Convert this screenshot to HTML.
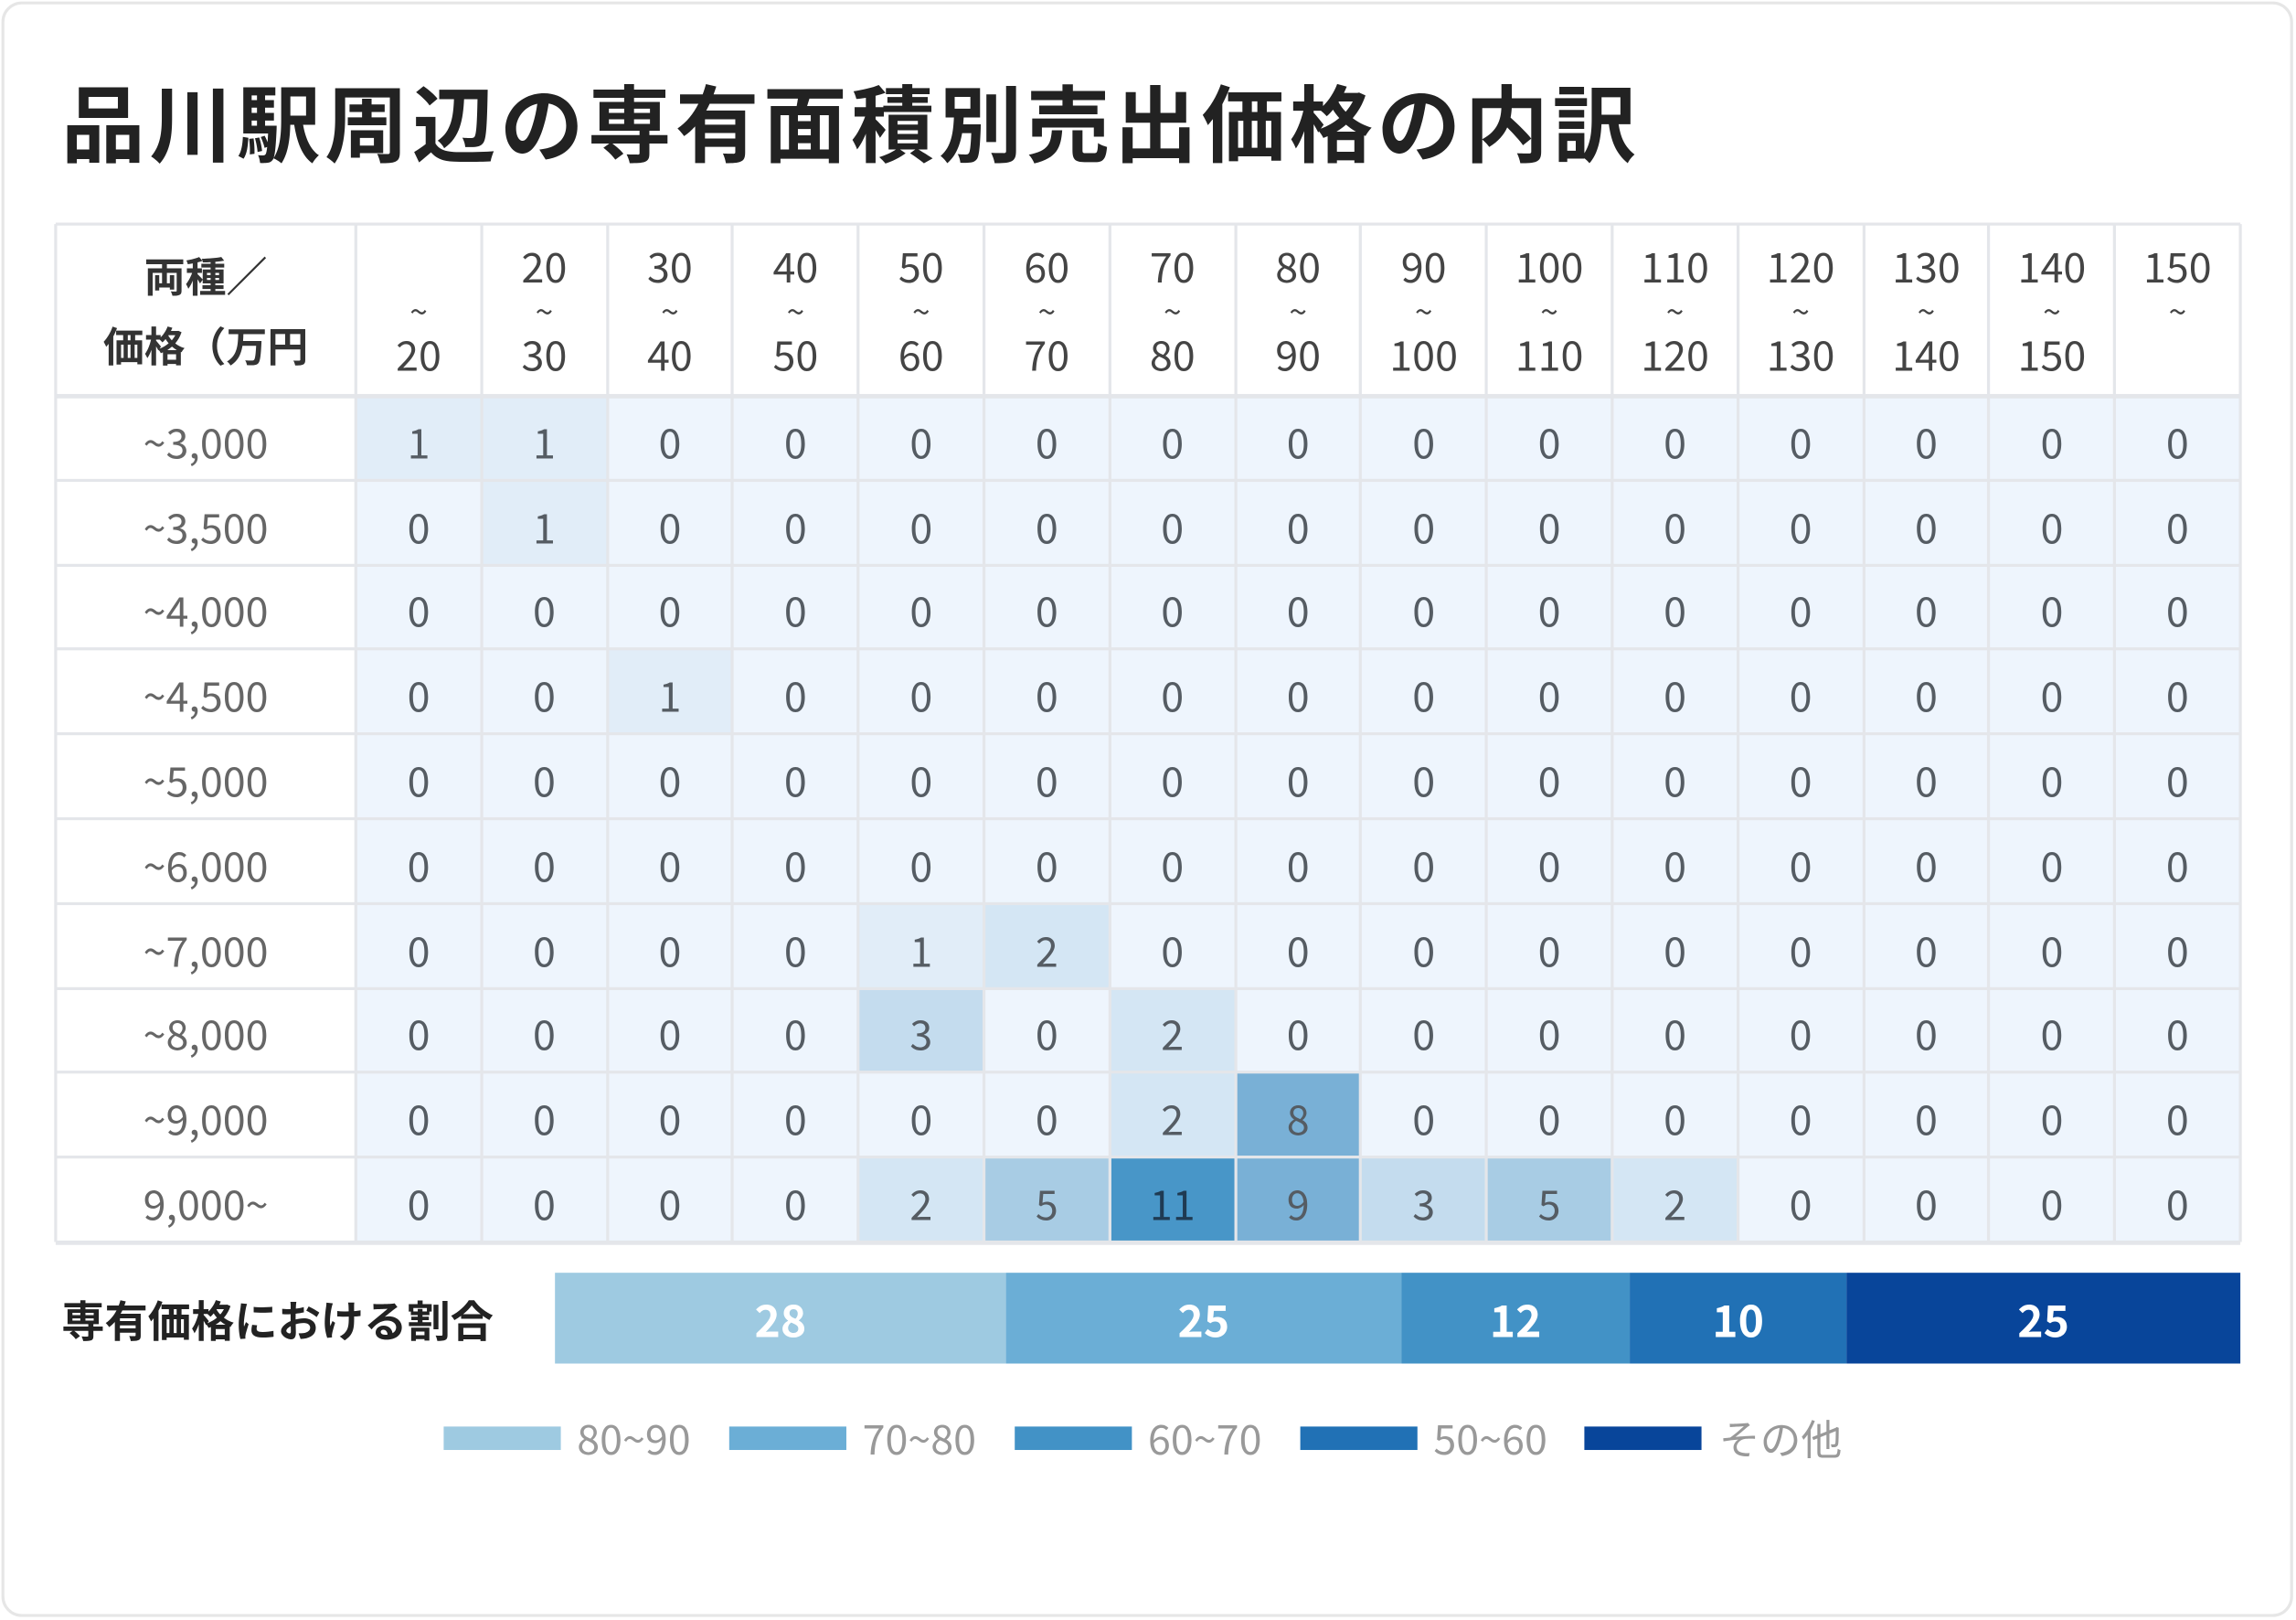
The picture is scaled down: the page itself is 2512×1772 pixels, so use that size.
<!DOCTYPE html>
<html><head><meta charset="utf-8"><style>
html,body{margin:0;padding:0;background:#fff;}
body{width:2512px;height:1772px;overflow:hidden;position:relative;}
#s{position:absolute;left:0;top:0;width:1568px;height:1106px;transform:scale(1.60204);transform-origin:0 0;font-family:"Liberation Sans","Noto Sans CJK JP",sans-serif;}
.card{position:absolute;left:1px;top:1px;width:1565px;height:1103px;border:2px solid #e6e6e6;border-radius:14px;box-sizing:border-box;}
.title{position:absolute;left:42px;top:52px;font-size:57px;font-weight:bold;color:#222;line-height:70px;white-space:nowrap;letter-spacing:2.9px;}
.c{position:absolute;box-sizing:border-box;display:flex;align-items:center;justify-content:center;font-family:"Noto Sans CJK JP",sans-serif;font-size:28px;color:#555c63;}
.g{position:absolute;background:#e4e6ea;}
.seg{position:absolute;top:869px;height:62px;color:#fff;font-weight:bold;font-size:30px;display:flex;align-items:center;justify-content:center;font-family:"Noto Sans CJK JP",sans-serif;}
.lg{position:absolute;top:974px;width:80px;height:16px;}
.lt{position:absolute;top:962px;font-size:28px;color:#999;font-family:"Noto Sans CJK JP",sans-serif;line-height:40px;}
</style></head><body><div id="s">
<div class="card"></div>
<div class="title">品川駅周辺の専有面積別売出価格の内訳</div>
<div id="t"></div>
<div style="position:absolute;left:42px;top:880px;font-size:29.5px;font-weight:bold;color:#222;font-family:'Noto Sans CJK JP',sans-serif;line-height:42px;white-space:nowrap;">専有価格における割合</div>
<div class="seg" style="left:379px;width:308px;background:#9ecae1">28</div>
<div class="seg" style="left:687px;width:270px;background:#6baed6">25</div>
<div class="seg" style="left:957px;width:156px;background:#4292c6">12</div>
<div class="seg" style="left:1113px;width:148px;background:#2171b5">10</div>
<div class="seg" style="left:1261px;width:269px;background:#08459a">25</div>
<div class="lg" style="left:303px;background:#9ecae1"></div><div class="lt" style="left:394px">80~90</div>
<div class="lg" style="left:498px;background:#6baed6"></div><div class="lt" style="left:589px">70~80</div>
<div class="lg" style="left:693px;background:#4292c6"></div><div class="lt" style="left:784px">60~70</div>
<div class="lg" style="left:888px;background:#2171b5"></div><div class="lt" style="left:979px">50~60</div>
<div class="lg" style="left:1082px;background:#08459a"></div><div class="lt" style="left:1174px">その他</div>
</div>
<script>
var t=document.getElementById('t'),h='';
var L=38,T=153,LW=205,HH=117,CW=(1530-243)/15,RH=(848-270)/10;
var hd=[['','20'],['20','30'],['30','40'],['40','50'],['50','60'],['60','70'],['70','80'],['80','90'],['90','100'],['100','110'],['110','120'],['120','130'],['130','140'],['140','150'],['150','']];
var rows=['~3,000','~3,500','~4,000','~4,500','~5,000','~6,000','~7,000','~8,000','~9,000','9,000~'];
var d=[[1,1,0,0,0,0,0,0,0,0,0,0,0,0,0],[0,1,0,0,0,0,0,0,0,0,0,0,0,0,0],[0,0,0,0,0,0,0,0,0,0,0,0,0,0,0],[0,0,1,0,0,0,0,0,0,0,0,0,0,0,0],[0,0,0,0,0,0,0,0,0,0,0,0,0,0,0],[0,0,0,0,0,0,0,0,0,0,0,0,0,0,0],[0,0,0,0,1,2,0,0,0,0,0,0,0,0,0],[0,0,0,0,3,0,2,0,0,0,0,0,0,0,0],[0,0,0,0,0,0,2,8,0,0,0,0,0,0,0],[0,0,0,0,2,5,11,9,3,5,2,0,0,0,0]];
var col={0:'#eef5fd',1:'#e1edf8',2:'#d4e6f4',3:'#c4dcee',5:'#a8cce4',8:'#79b0d6',9:'#79b0d6',11:'#4896c8'};
h+='<div class="c" style="left:'+L+'px;top:'+T+'px;width:'+LW+'px;height:'+HH+'px;font-weight:bold;color:#333;font-size:28px;line-height:48px;text-align:center"><div>両種／<br>価格（万円</div></div>';
for(var j=0;j<15;j++){var x=243+j*CW;
h+='<div class="c" style="left:'+x+'px;top:'+T+'px;width:'+CW+'px;height:'+HH+'px;flex-direction:column;line-height:30px;color:#444">'+'<div style="height:30px">'+hd[j][0]+'</div><div style="height:30px;font-size:22px">~</div><div style="height:30px">'+hd[j][1]+'</div></div>';}
for(var i=0;i<10;i++){var y=270+i*RH;
h+='<div class="c" style="left:'+L+'px;top:'+(y+3)+'px;width:'+LW+'px;height:'+RH+'px;color:#666">'+rows[i]+'</div>';
for(var j=0;j<15;j++){var x=243+j*CW,v=d[i][j];
h+='<div class="c" style="left:'+x+'px;top:'+y+'px;width:'+CW+'px;height:'+RH+'px;padding-top:6px;background:'+col[v]+';'+(v==11?'color:#1f3a52':'')+'">'+v+'</div>';}}
for(var j=0;j<=16;j++){var x=j==0?L:(243+(j-1)*CW);h+='<div class="g" style="left:'+(x-1)+'px;top:'+T+'px;width:2px;height:695px"></div>';}
h+='<div class="g" style="left:'+L+'px;top:'+(T-1)+'px;width:1492px;height:2px"></div>';
for(var i=0;i<=10;i++){var y=270+i*RH;h+='<div class="g" style="left:'+L+'px;top:'+(y-1)+'px;width:1492px;height:'+(i==0||i==10?3:2)+'px"></div>';}
t.innerHTML=h;
</script>
</body></html>
